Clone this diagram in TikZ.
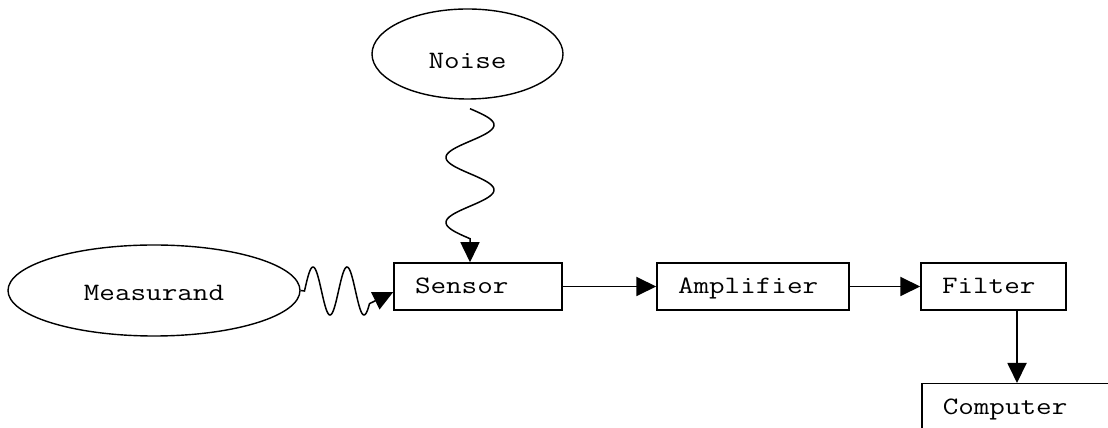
\documentclass[tikz,border=0pt]{standalone}
\usepackage{fontspec}
\usetikzlibrary{arrows.meta,shapes.geometric}
\newcommand{\cw}[1]{\scalebox{1.21}[1]{#1}}
\tikzset{
  lbl/.style={font=\ttfamily\fontsize{25}{30}\selectfont},
  boxnode/.style={lbl, draw, line width=1.5pt, rectangle, minimum height=47pt,
    inner xsep=21pt, inner ysep=0pt, align=left, text height=15pt, text depth=0pt},
  oval/.style={lbl, draw, line width=1.4pt, ellipse, inner sep=0pt},
  arr/.style={line width=1.9pt, -{Triangle[length=20pt,width=19pt]}},
  wave/.style={line width=1.5pt, -{Triangle[length=20pt,width=19pt]}},
}
\begin{document}
\begin{tikzpicture}[x=1pt,y=1pt]
\clip (0,0) rectangle (1108,428);
\fill[white] (0,0) rectangle (1108,428);
% ellipses
\node[oval, minimum width=191pt, minimum height=90pt, text height=29pt, text depth=0pt] (noise) at (467.5,374) {\cw{Noise}};
\node[oval, minimum width=292pt, minimum height=91pt, text height=21pt, text depth=0pt] (meas) at (154,137.5) {\cw{Measurand}};
% boxes
\node[boxnode, text width=126pt] (sensor) at (478,141.5) {\cw{Sensor}};
\node[boxnode, text width=150pt] (amp) at (753,141.5) {\cw{Amplifier}};
\node[boxnode, text width=103pt] (filter) at (993.5,141.5) {\cw{Filter}};
\node[boxnode, text width=208pt, anchor=north west] (comp) at (921,45) {\cw{Computer}};
% connectors
\draw[arr] (sensor.east) -- (amp.west);
\draw[arr] (amp.east) -- (filter.west);
\draw[arr] ([xshift=23.5pt]filter.south) -- ([xshift=23.5pt]filter.south |- comp.north);
% noise wave
\draw[wave, shift={(noise.south)}] plot[domain=0:130, samples=120, smooth]
  ({2.5+24*sin(\x*5.53846)}, {-9-\x}) -- ([xshift=-8pt]sensor.north);
% measurand wave
\draw[wave] (meas.east) -- plot[domain=0:65, samples=90, smooth]
  ({304.5+\x}, {137+24*sin(\x*10.588)}) -- ([yshift=-5.5pt]sensor.west);
\end{tikzpicture}
\end{document}
